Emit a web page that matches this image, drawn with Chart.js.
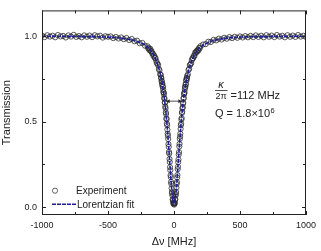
<!DOCTYPE html>
<html lang="en">
<head>
<meta charset="UTF-8">
<title>Resonance transmission</title>
<script src="https://cdn.jsdelivr.net/npm/chart.js"></script>
<style>
  body { margin: 0; background: #fff; }
</style>
</head>
<body>
<canvas id="spectrum" width="321" height="251"></canvas>
<script>
// measured points (MHz detuning, normalised transmission)
const expDetuning = [
  -1000,-980,-960,-940,-920,-900,-880,-860,-840,-820,-800,-780,-760,-740,-720,-700,-680,-660,-640,-620,
  -600,-580,-560,-540,-520,-500,-480,-460,-440,-420,-400,-380,-360,-340,-320,-300,-280,-260,-240,-220,
  -200,-195,-190,-185,-180,-175,-170,-165,-160,-155,-150,-145,-140,-135,-130,-125,-120,-115,-110,-105,
  -100,-98,-96,-94,-92,-90,-88,-86,-84,-82,-80,-78,-76,-74,-72,-70,-68,-66,-64,-62,
  -60,-58,-56,-54,-52,-50,-48,-46,-44,-42,-40,-38,-36,-34,-32,-30,-28,-26,-24,-22,
  -20,-18,-16,-14,-12,-10,-8,-6,-4,-2,0,2,4,6,8,10,12,14,16,18,
  20,22,24,26,28,30,32,34,36,38,40,42,44,46,48,50,52,54,56,58,
  60,62,64,66,68,70,72,74,76,78,80,82,84,86,88,90,92,94,96,98,100,
  105,110,115,120,125,130,135,140,145,150,155,160,165,170,175,180,185,190,195,200,
  220,240,260,280,300,320,340,360,380,400,420,440,460,480,500,520,540,560,580,600,
  620,640,660,680,700,720,740,760,780,800,820,840,860,880,900,920,940,960,980,1000
];
const transExp = [
  1.003,0.994,1.005,0.997,1.002,0.993,1.006,0.998,1.001,0.992,1.004,0.997,1.007,0.995,1.000,0.993,1.004,0.996,1.003,0.994,
  1.005,0.998,1.002,0.991,0.999,0.996,0.998,0.988,0.995,0.986,0.992,0.982,0.989,0.977,0.983,0.970,0.973,0.958,0.960,0.944,
  0.940,0.927,0.929,0.917,0.926,0.912,0.912,0.898,0.898,0.883,0.887,0.872,0.872,0.856,0.842,0.839,0.830,0.808,0.800,0.777,
  0.773,0.757,0.754,0.738,0.736,0.719,0.721,0.705,0.704,0.687,0.673,0.670,0.660,0.639,0.633,0.612,0.611,0.588,0.578,0.555,
  0.545,0.520,0.514,0.489,0.480,0.454,0.430,0.418,0.399,0.369,0.353,0.323,0.314,0.282,0.264,0.234,0.217,0.187,0.176,0.148,
  0.137,0.111,0.089,0.081,0.068,0.046,0.042,0.025,0.032,0.019,0.023,0.016,0.026,0.024,0.044,0.047,0.069,0.077,0.089,0.115,
  0.136,0.147,0.174,0.188,0.223,0.237,0.264,0.279,0.308,0.322,0.355,0.370,0.400,0.414,0.430,0.458,0.479,0.488,0.512,0.521,
  0.551,0.558,0.578,0.585,0.605,0.611,0.635,0.640,0.661,0.666,0.673,0.691,0.703,0.704,0.719,0.720,0.742,0.741,0.754,0.754,0.767,
  0.776,0.802,0.809,0.831,0.835,0.842,0.860,0.871,0.871,0.885,0.884,0.904,0.901,0.912,0.909,0.920,0.916,0.931,0.928,0.941,
  0.951,0.953,0.967,0.966,0.978,0.975,0.985,0.980,0.990,0.985,0.994,0.988,0.996,0.990,0.998,0.992,1.000,0.993,1.001,0.994,
  1.004,0.995,1.002,0.993,1.005,0.996,1.003,0.994,1.006,0.997,1.002,0.993,1.005,0.996,1.003,0.995,1.006,0.997,1.002,0.995
];

// Lorentzian fit curve
const fitDetuning = [
  -1000,-980,-960,-940,-920,-900,-880,-860,-840,-820,-800,-780,-760,-740,-720,-700,-680,-660,-640,-620,
  -600,-580,-560,-540,-520,-500,-480,-460,-440,-420,-400,-380,-360,-340,-320,-300,-280,-260,-240,-220,
  -200,-190,-180,-170,-160,-150,-140,-130,-120,-110,-100,-90,-80,-70,-60,-50,-40,-30,-20,-10,
  0,10,20,30,40,50,60,70,80,90,100,110,120,130,140,150,160,170,180,190,200,
  220,240,260,280,300,320,340,360,380,400,420,440,460,480,500,520,540,560,580,600,
  620,640,660,680,700,720,740,760,780,800,820,840,860,880,900,920,940,960,980,1000
];
const transFit = [
  0.999,0.999,0.999,0.999,0.999,0.999,0.999,0.999,0.998,0.998,0.998,0.998,0.998,0.998,0.998,0.998,0.997,0.997,0.997,0.997,
  0.997,0.996,0.996,0.995,0.995,0.994,0.993,0.992,0.991,0.990,0.988,0.986,0.984,0.981,0.978,0.974,0.969,0.963,0.956,0.947,
  0.935,0.927,0.919,0.909,0.897,0.883,0.866,0.847,0.825,0.798,0.766,0.726,0.678,0.618,0.544,0.455,0.351,0.239,0.131,0.050,
  0.020,0.050,0.131,0.239,0.351,0.455,0.544,0.618,0.678,0.726,0.766,0.798,0.825,0.847,0.866,0.883,0.897,0.909,0.919,0.927,0.935,
  0.947,0.956,0.963,0.969,0.974,0.978,0.981,0.984,0.986,0.988,0.990,0.991,0.992,0.993,0.994,0.995,0.995,0.996,0.996,0.997,
  0.997,0.997,0.997,0.997,0.997,0.998,0.998,0.998,0.998,0.998,0.998,0.998,0.998,0.999,0.999,0.999,0.999,0.999,0.999,0.999
];

const xTicks = [-1000, -750, -500, -250, 0, 250, 500, 750, 1000];
const xTickLabels = ['-1000', '', '-500', '', '0', '', '500', '', '1000'];
const yTicks = [0, 0.25, 0.5, 0.75, 1.0];
const yTickLabels = ['0.0', '', '0.5', '', '1.0'];

const fontFamily = "'Liberation Sans', Arial, sans-serif";
const ink = '#222';
const fitColor = '#1e1e96';
const dotColor = 'rgba(40,40,40,0.9)';

// box frame with ticks pointing inward on all four sides
const frameTicks = {
  id: 'frameTicks',
  afterDatasetsDraw(chart) {
    const { ctx, chartArea: a, scales: { x, y } } = chart;
    ctx.save();
    ctx.strokeStyle = ink;
    ctx.lineWidth = 1;
    ctx.strokeRect(a.left + 0.5, a.top + 0.5, a.right - a.left - 1, a.bottom - a.top - 1);
    ctx.beginPath();
    xTicks.forEach((v, i) => {
      const px = Math.round(x.getPixelForValue(v)) + 0.5;
      const len = xTickLabels[i] ? 4 : 3;
      ctx.moveTo(px, a.bottom); ctx.lineTo(px, a.bottom - len);
      ctx.moveTo(px, a.top); ctx.lineTo(px, a.top + len);
    });
    yTicks.forEach((v, i) => {
      const py = Math.round(y.getPixelForValue(v)) + 0.5;
      const len = yTickLabels[i] ? 4 : 3;
      ctx.moveTo(a.left, py); ctx.lineTo(a.left + len, py);
      ctx.moveTo(a.right, py); ctx.lineTo(a.right - len, py);
    });
    ctx.stroke();
    ctx.restore();
  }
};

// linewidth marker, text labels and the inset legend
const notes = {
  id: 'notes',
  afterDraw(chart) {
    const { ctx, scales: { x, y } } = chart;
    ctx.save();
    ctx.fillStyle = ink;
    ctx.strokeStyle = ink;

    // FWHM arrow
    const ay = y.getPixelForValue(0.62);
    const x1 = x.getPixelForValue(-56), x2 = x.getPixelForValue(56);
    ctx.lineWidth = 0.8;
    ctx.beginPath();
    ctx.moveTo(x1, ay); ctx.lineTo(x2, ay);
    ctx.stroke();
    ctx.beginPath();
    ctx.moveTo(x1, ay); ctx.lineTo(x1 + 3, ay - 2); ctx.lineTo(x1 + 3, ay + 2); ctx.closePath();
    ctx.moveTo(x2, ay); ctx.lineTo(x2 - 3, ay - 2); ctx.lineTo(x2 - 3, ay + 2); ctx.closePath();
    ctx.fill();

    // kappa / 2pi = 112 MHz
    ctx.textBaseline = 'alphabetic';
    ctx.textAlign = 'center';
    ctx.font = 'italic 11px ' + fontFamily;
    ctx.fillText('κ', 221, 88);
    ctx.font = '9px ' + fontFamily;
    ctx.fillText('2π', 221, 99);
    ctx.lineWidth = 0.8;
    ctx.beginPath();
    ctx.moveTo(215, 90.5); ctx.lineTo(227.5, 90.5);
    ctx.stroke();
    ctx.textAlign = 'left';
    ctx.font = '11px ' + fontFamily;
    ctx.fillText('=112 MHz', 230.5, 99);

    // Q factor
    const q = 'Q = 1.8×10';
    ctx.fillText(q, 215, 117);
    const qw = ctx.measureText(q).width;
    ctx.font = '7.5px ' + fontFamily;
    ctx.fillText('6', 215 + qw + 0.5, 112.5);

    // legend
    ctx.lineWidth = 0.8;
    ctx.strokeStyle = dotColor;
    ctx.beginPath();
    ctx.arc(55, 190.7, 2.6, 0, Math.PI * 2);
    ctx.stroke();
    ctx.strokeStyle = fitColor;
    ctx.lineWidth = 1.6;
    ctx.setLineDash([4, 1]);
    ctx.beginPath();
    ctx.moveTo(52, 204.3); ctx.lineTo(76, 204.3);
    ctx.stroke();
    ctx.setLineDash([]);
    ctx.font = '10px ' + fontFamily;
    ctx.fillStyle = ink;
    ctx.fillText('Experiment', 76, 194.3);
    ctx.fillText('Lorentzian fit', 77, 208);
    ctx.restore();
  }
};

new Chart(document.getElementById('spectrum'), {
  type: 'scatter',
  data: {
    datasets: [
      {
        label: 'Lorentzian fit',
        type: 'line',
        data: fitDetuning.map((v, i) => ({ x: v, y: transFit[i] })),
        showLine: true,
        borderColor: fitColor,
        borderWidth: 1.6,
        borderDash: [4, 1],
        pointRadius: 0,
        tension: 0.3,
        fill: false,
        order: 0
      },
      {
        label: 'Experiment',
        data: expDetuning.map((v, i) => ({ x: v, y: transExp[i] })),
        pointStyle: 'circle',
        pointRadius: 2.6,
        pointBorderWidth: 0.85,
        pointBorderColor: dotColor,
        pointBackgroundColor: 'rgba(0,0,0,0)',
        order: 1
      }
    ]
  },
  options: {
    responsive: false,
    animation: false,
    devicePixelRatio: 1,
    layout: { padding: { top: 3, right: 13, left: 0, bottom: 0 } },
    plugins: { legend: { display: false }, tooltip: { enabled: false } },
    scales: {
      x: {
        type: 'linear',
        min: -1000,
        max: 1000,
        afterBuildTicks: s => { s.ticks = xTicks.map(v => ({ value: v })); },
        afterFit: s => { s.height = 36; },
        grid: { display: false, drawTicks: false },
        border: { display: false },
        ticks: {
          autoSkip: false,
          maxRotation: 0,
          padding: 5,
          color: ink,
          font: { family: fontFamily, size: 9 },
          callback: (v, i) => xTickLabels[i]
        },
        title: {
          display: true,
          text: 'Δν [MHz]',
          color: ink,
          font: { family: fontFamily, size: 11 },
          padding: { top: 0, bottom: 2.4 }
        }
      },
      y: {
        min: -0.045,
        max: 1.15,
        afterBuildTicks: s => { s.ticks = yTicks.map(v => ({ value: v })); },
        afterFit: s => { s.width = 42; },
        grid: { display: false, drawTicks: false },
        border: { display: false },
        ticks: {
          autoSkip: false,
          padding: 5,
          color: ink,
          font: { family: fontFamily, size: 9 },
          callback: (v, i) => yTickLabels[i]
        },
        title: {
          display: true,
          text: 'Transmission',
          color: ink,
          font: { family: fontFamily, size: 11 },
          padding: { top: 0.5, bottom: 0 }
        }
      }
    }
  },
  plugins: [frameTicks, notes]
});
</script>
</body>
</html>
